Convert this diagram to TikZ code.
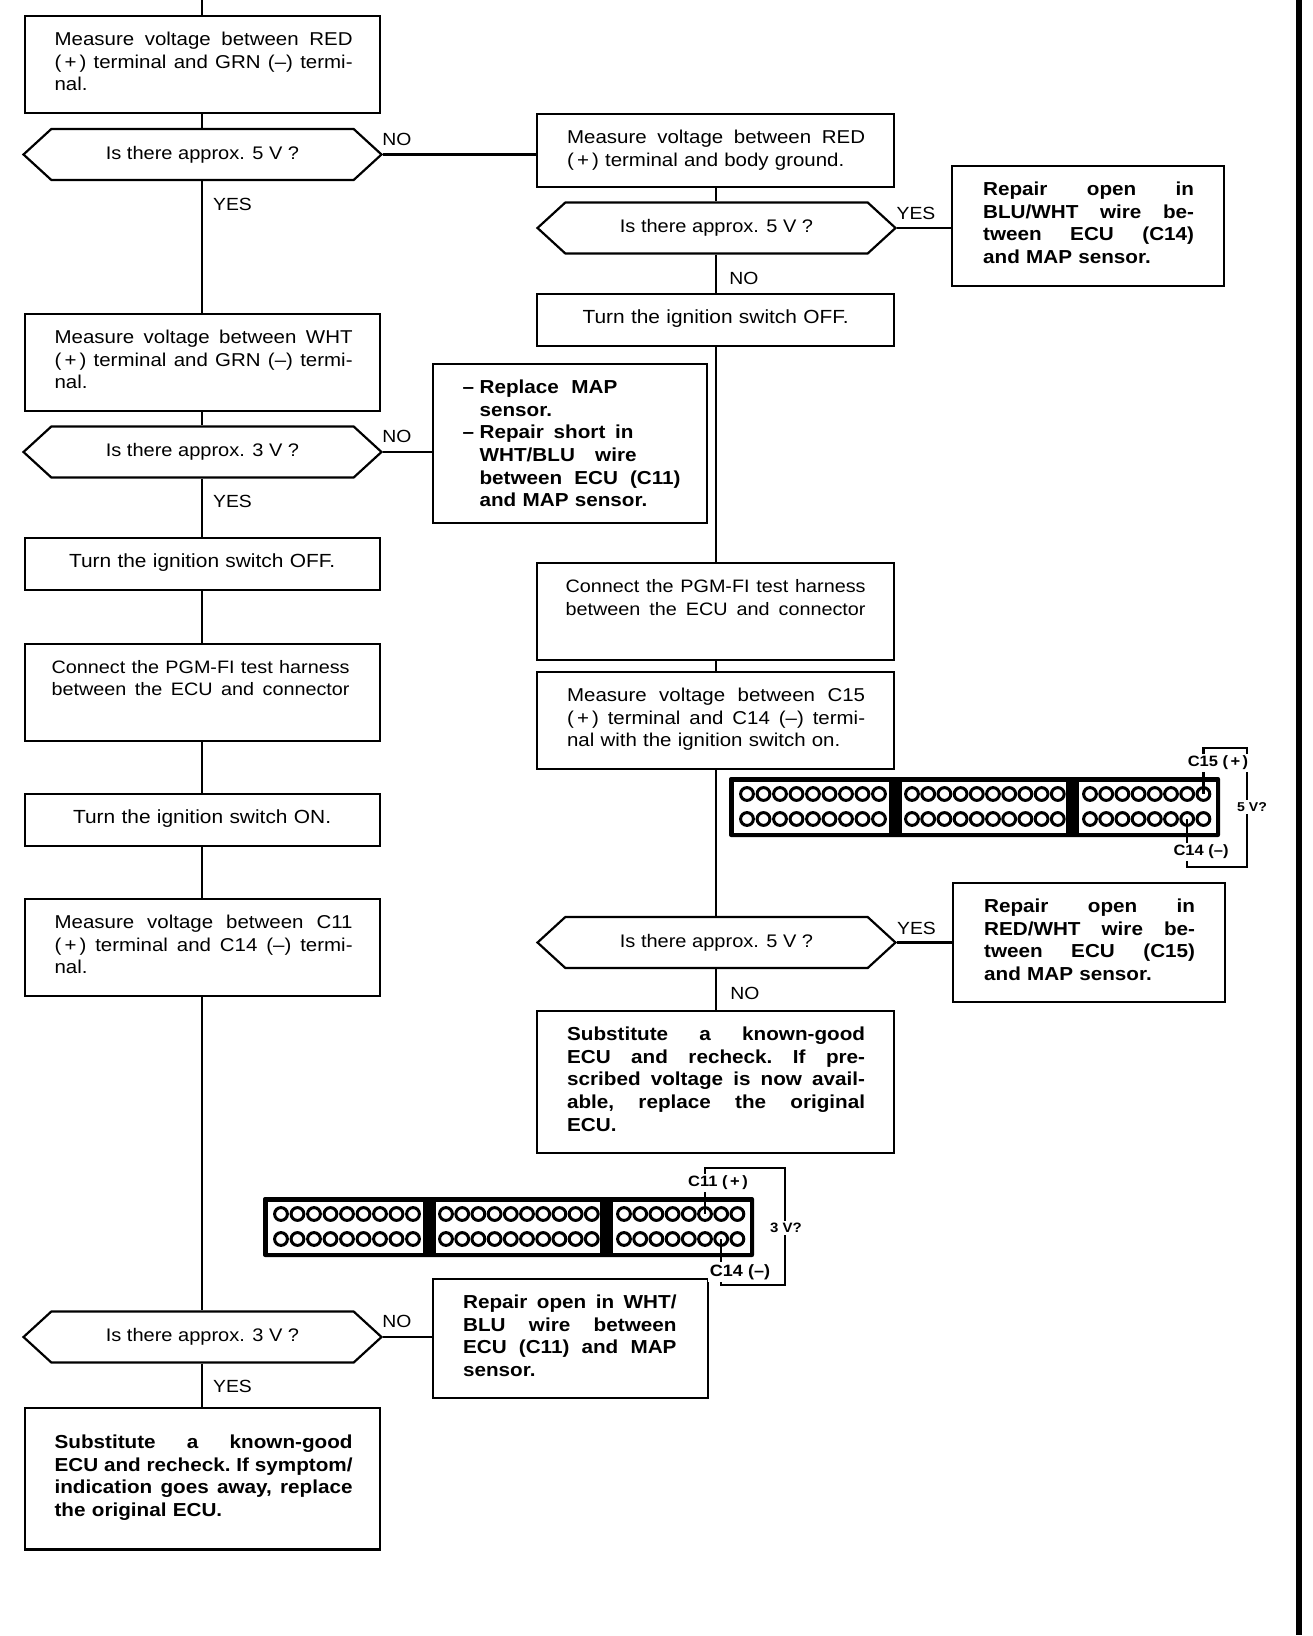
\documentclass[tikz,border=0pt]{standalone}
\usepackage{fontspec}
\setmainfont[FakeStretch=1.1]{Liberation Sans}
\usetikzlibrary{calc,shapes.symbols}
\newcommand{\just}[2][149pt]{\makebox[#1][s]{\frenchspacing\spaceskip=.26em plus 1fil minus .1em #2}}
\tikzset{
  flowbox/.style={draw,line width=1.1pt,anchor=north west,align=left,text width=147.5pt,
    inner xsep=15pt,inner ysep=8pt,text height=6.7pt,
    font=\fontsize{9.3}{11.35}\selectfont},
  rightcol/.style={text width=148.5pt},
  tallbox/.style={flowbox,text depth=25.8pt},
  shortbox/.style={flowbox,text depth=3.2pt,align=center,
    font=\fontsize{9.5}{11.35}\selectfont},
  harnessbox/.style={tallbox,font=\fontsize{9}{11.35}\selectfont},
  actionbox/.style={flowbox,font=\fontsize{9.4}{11.35}\selectfont\bfseries},
  decision/.style={draw,line width=1.1pt,signal,signal to=east and west,signal pointer angle=85,
    minimum width=179pt,minimum height=25.5pt,inner sep=0pt,
    font=\fontsize{9.1}{11}\selectfont},
  answer/.style={font=\fontsize{8.8}{10}\selectfont,inner sep=0pt},
  wire/.style={line width=1.1pt},
  hole/.style={circle,draw,line width=1.5pt,minimum size=6.4pt,inner sep=0pt},
  pinlabel/.style={fill=white,inner sep=1pt,font=\fontsize{7.5}{9}\selectfont\bfseries},
}
\begin{document}
\begin{tikzpicture}[x=0.5pt,y=-0.5pt]
  \useasboundingbox (0,0) rectangle (1312,1636);
  \fill (1296,0) rectangle (1301.5,1635);

  \node[tallbox] (redgrn) at (23.5,15) {\just{Measure voltage between RED}\\
    \just{(\,+\,) terminal and GRN (--) termi-}\\ nal.};
  \coordinate (topend) at (redgrn.north |- 0,0);
  \node[decision] (fivevolt) at (202.5,154.5) {Is there approx. 5 V ?};
  \node[tallbox] (whtgrn) at (23.5,313) {\just{Measure voltage between WHT}\\
    \just{(\,+\,) terminal and GRN (--) termi-}\\ nal.};
  \node[decision] (threevolt) at (202.5,452) {Is there approx. 3 V ?};
  \node[shortbox] (offleft) at (23.5,537) {Turn the ignition switch OFF.};
  \node[harnessbox,text width=150.5pt,inner xsep=13.5pt] (harnessleft) at (23.5,642.5) {%
    \just{Connect the PGM-FI test harness}\\ \just{between the ECU and connector}};
  \node[shortbox] (onleft) at (23.5,793) {Turn the ignition switch ON.};
  \node[tallbox] (cellvn) at (23.5,898) {\just{Measure voltage between C11}\\
    \just{(\,+\,) terminal and C14 (--) termi-}\\ nal.};
  \node[decision] (threecheck) at (202.5,1337) {Is there approx. 3 V ?};
  \node[actionbox,text height=12.2pt,text depth=42.5pt] (subleft) at (23.5,1407) {%
    \just{Substitute a known-good}\\ \just{ECU and recheck. If symptom/}\\
    \just{indication goes away, replace}\\ the original ECU.};

  \node[flowbox,rightcol,text depth=13.8pt] (redbody) at (536,113) {\just{Measure voltage between RED}\\
    (\,+\,) terminal and body ground.};
  \node[decision] (bodyvolt) at (716.5,228) {Is there approx. 5 V ?};
  \node[actionbox,text width=105pt,inner xsep=15.5pt,text depth=37.3pt] (repairblu) at (951,165) {%
    \just[105.5pt]{Repair open in}\\ \just[105.5pt]{BLU/WHT wire be-}\\
    \just[105.5pt]{tween ECU (C14)}\\ and MAP sensor.};
  \node[shortbox,rightcol] (offright) at (536,293) {Turn the ignition switch OFF.};
  \node[actionbox,text width=107pt,text depth=56.8pt] (repairmap) at (431.5,363) {%
    \makebox[8.5pt][l]{--}Replace\ \ MAP\\ \hspace*{8.5pt}sensor.\\
    \makebox[8.5pt][l]{--}\just[77pt]{Repair short in}\\ \hspace*{8.5pt}\just[78.5pt]{WHT/BLU wire}\\
    \hspace*{8.5pt}\just[100.5pt]{between ECU (C11)}\\ \hspace*{8.5pt}and MAP sensor.};
  \node[harnessbox,text width=150pt,inner xsep=14.25pt] (harnessright) at (536,562) {%
    \just[150pt]{Connect the PGM-FI test harness}\\ \just[150pt]{between the ECU and connector}};
  \node[tallbox,rightcol] (cfifteen) at (536,671) {\just{Measure voltage between C15}\\
    \just{(\,+\,) terminal and C14 (--) termi-}\\ nal with the ignition switch on.};
  \node[decision] (fivecheck) at (716.5,942.5) {Is there approx. 5 V ?};
  \node[actionbox,text width=105pt,inner xsep=15.5pt,text depth=36.8pt] (repairred) at (952,882) {%
    \just[105.5pt]{Repair open in}\\ \just[105.5pt]{RED/WHT wire be-}\\
    \just[105.5pt]{tween ECU (C15)}\\ and MAP sensor.};
  \node[actionbox,rightcol,text depth=48.3pt] (subright) at (536,1010) {%
    \just{Substitute a known-good}\\ \just{ECU and recheck. If pre-}\\
    \just{scribed voltage is now avail-}\\ \just{able, replace the original}\\ ECU.};
  \node[actionbox,text width=107pt,inner xsep=15.25pt,text depth=36.8pt] (repairwht) at (431.5,1278) {%
    \just[106.7pt]{Repair open in WHT/}\\ \just[106.7pt]{BLU wire between}\\
    \just[106.7pt]{ECU (C11) and MAP}\\ sensor.};

  \draw[wire] (topend) -- (redgrn.north);
  \draw[wire] (redgrn.south) -- (redgrn.south |- fivevolt.north);
  \draw[wire] (whtgrn.north |- fivevolt.south) -- (whtgrn.north);
  \draw[wire] (whtgrn.south) -- (whtgrn.south |- threevolt.north);
  \draw[wire] (offleft.north |- threevolt.south) -- (offleft.north);
  \draw[wire] (offleft.south) -- (harnessleft.north);
  \draw[wire] (harnessleft.south) -- (onleft.north);
  \draw[wire] (onleft.south) -- (cellvn.north);
  \draw[wire] (cellvn.south) -- (cellvn.south |- threecheck.north);
  \draw[wire] (subleft.north |- threecheck.south) -- (subleft.north);
  \draw[wire] (redbody.south) -- (redbody.south |- bodyvolt.north);
  \draw[wire] (offright.north |- bodyvolt.south) -- (offright.north);
  \draw[wire] (offright.south) -- (harnessright.north);
  \draw[wire] (harnessright.south) -- (cfifteen.north);
  \draw[wire] (cfifteen.south) -- (cfifteen.south |- fivecheck.north);
  \draw[wire] (subright.north |- fivecheck.south) -- (subright.north);
  \draw[wire] (fivevolt.east) -- (fivevolt.east -| redbody.west);
  \draw[wire] (threevolt.east) -- (threevolt.east -| repairmap.west);
  \draw[wire] (threecheck.east) -- (threecheck.east -| repairwht.west);
  \draw[wire] (bodyvolt.east) -- (bodyvolt.east -| repairblu.west);
  \draw[wire] (fivecheck.east) -- (fivecheck.east -| repairred.west);

  \node[answer] (no1) at (397,139) {NO};
  \node[answer] (yes1) at (232.5,204.5) {YES};
  \node[answer] (no2) at (397,436.5) {NO};
  \node[answer] (yes2) at (232.5,501) {YES};
  \node[answer] (no3) at (397,1321.5) {NO};
  \node[answer] (yes3) at (232.5,1386) {YES};
  \node[answer] (yes4) at (916,213) {YES};
  \node[answer] (no4) at (744,278) {NO};
  \node[answer] (yes5) at (916.5,928) {YES};
  \node[answer] (no5) at (745,993) {NO};

  \foreach \nm/\ox/\oy in {a/729/777,b/263/1197} {
    \begin{scope}[shift={(\ox,\oy)}]
      \fill[rounded corners=1pt] (0,0) rectangle (491,60);
      \fill[white] (5,5) rectangle (160,56);
      \fill[white] (173,5) rectangle (337,56);
      \fill[white] (350,5) rectangle (487,56);
      \foreach \k in {0,...,8} {
        \node[hole] (\nm pa\k) at ({18+16.5*\k},17) {};
        \node[hole] (\nm qa\k) at ({18+16.5*\k},42) {};
      }
      \foreach \k in {0,...,9} {
        \node[hole] (\nm pb\k) at ({183+16.2*\k},17) {};
        \node[hole] (\nm qb\k) at ({183+16.2*\k},42) {};
      }
      \foreach \k in {0,...,7} {
        \node[hole] (\nm pc\k) at ({361+16.2*\k},17) {};
        \node[hole] (\nm qc\k) at ({361+16.2*\k},42) {};
      }
    \end{scope}
  }

  \coordinate (fifteentop) at (1247,748);
  \coordinate (fifteenbot) at (1247,867);
  \draw[wire] (apc7.center) |- (fifteentop) -- (fifteenbot) -| (aqc6.center);
  \coordinate (eleventop) at (785,1168);
  \coordinate (elevenbot) at (785,1285);
  \draw[wire] (bpc5.center) |- (eleventop) -- (elevenbot) -| (bqc6.center);

  \node[pinlabel] (cfifteenplus) at (1218,763) {C15 (\,+\,)};
  \node[pinlabel] (cfourteenminus) at (1201,852) {C14 (--)};
  \node[pinlabel,font=\fontsize{6.4}{8}\selectfont\bfseries] (fivequery) at (1252,807) {5 V?};
  \node[pinlabel] (celevenplus) at (718,1183) {C11 (\,+\,)};
  \node[pinlabel,font=\fontsize{8.2}{9}\selectfont\bfseries] (cfourteenlow) at (740,1272) {C14 (--)};
  \node[pinlabel,font=\fontsize{6.8}{8}\selectfont\bfseries] (threequery) at (786,1228) {3 V?};
\end{tikzpicture}
\end{document}
